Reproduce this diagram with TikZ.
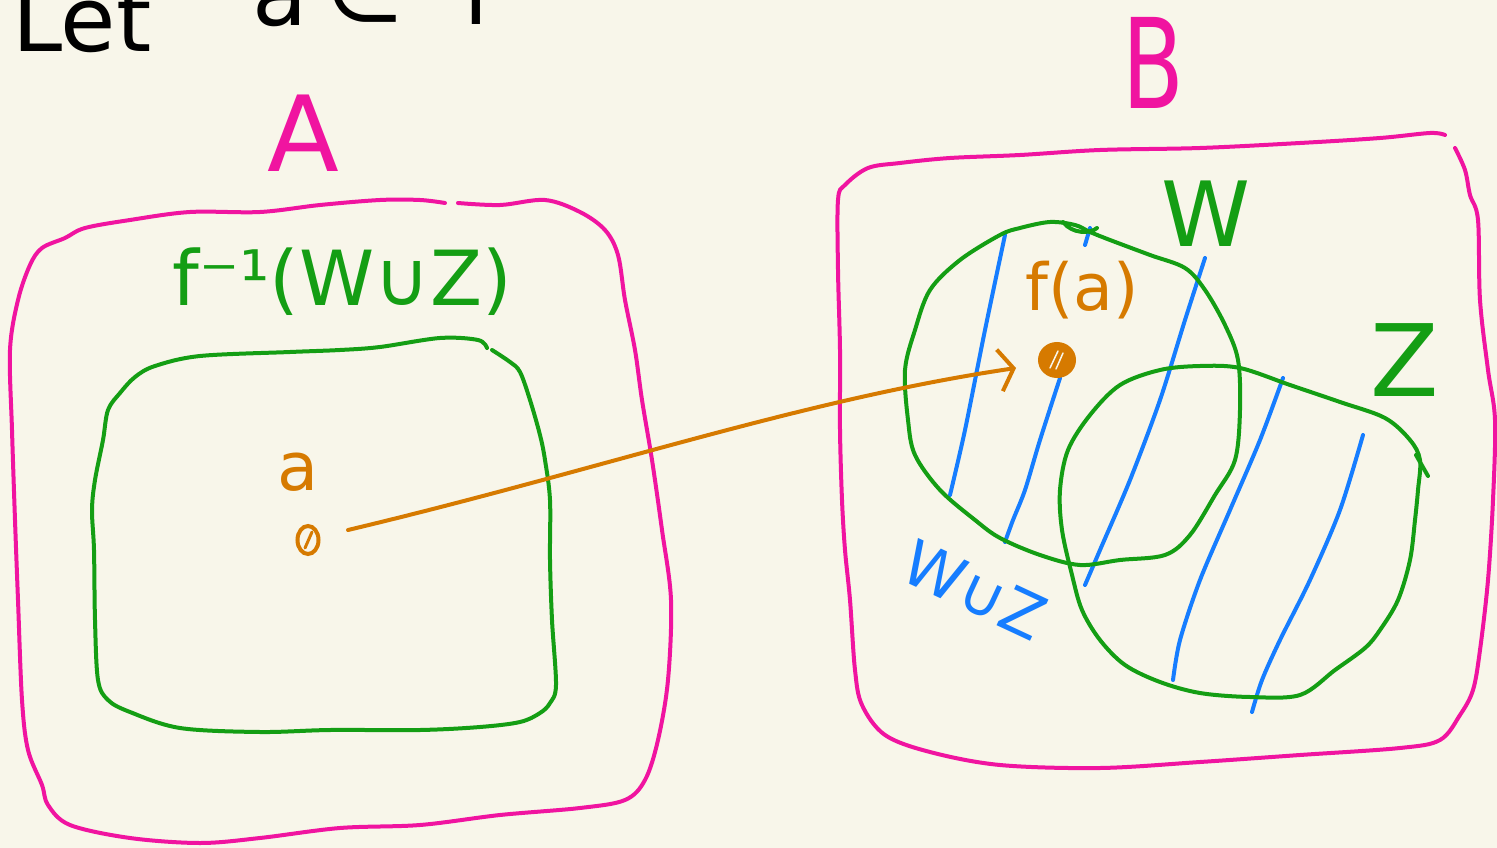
\documentclass[tikz,border=0pt]{standalone}
\usepackage{fontspec}
\setmainfont{DejaVu Sans}
\usetikzlibrary{arrows.meta,shapes.geometric}
\definecolor{bg}{RGB}{248,246,234}
\definecolor{pinkc}{RGB}{240,20,160}
\definecolor{grn}{RGB}{20,158,20}
\definecolor{blu}{RGB}{22,125,255}
\definecolor{org}{RGB}{214,122,0}
\newcommand{\fs}[1]{\fontsize{#1}{#1}\selectfont}
\begin{document}
\begin{tikzpicture}[x=1pt,y=-1pt,
  stroke/.style={line width=4pt,line cap=round,line join=round},
  hatch/.style={stroke,blu},
  lbl/.style={inner sep=0pt},
  dotnode/.style={ellipse,draw=org,line width=4pt,inner sep=0pt}]
\fill[bg] (0,0) rectangle (1497,848);
\useasboundingbox (0,0) rectangle (1497,848);
\clip (0,0) rectangle (1497,848);

% top text (cut off)
\node[lbl,anchor=base west,font=\fs{90}] (tLet) at (12,52) {Let};
\node[lbl,anchor=base west,font=\fs{90}] (ta) at (252,26) {a};
\node[lbl,anchor=base west,font=\fs{90}] (tin) at (325,22) {∈};
\node[lbl,anchor=base west,font=\fs{90}] (tf) at (462,25) {f};

% set A
\draw[stroke,pinkc] plot[smooth,tension=0.55] coordinates {(458,203) (500,205) (545,200) (580,212) (605,230) (618,255) (625,300) (635,350) (642,400) (652,460) (662,530) (671,600) (668,680) (658,740) (645,780) (625,800) (580,808) (500,815) (420,825) (340,828) (260,838) (200,843) (130,838) (70,825) (48,805) (42,785) (28,750) (22,700) (18,600) (15,520) (12,430) (10,350) (18,300) (30,265) (42,248) (65,238) (85,228) (130,220) (190,212) (260,212) (320,205) (380,200) (420,200) (445,203)};
\node[lbl,pinkc,font=\fs{105}] (labA) at (303,133) {A};

% preimage box
\draw[stroke,grn] plot[smooth,tension=0.55] coordinates {(492,350) (510,362) (520,372) (530,400) (540,435) (545,460) (550,500) (550,560) (552,620) (556,685) (550,703) (540,713) (520,722) (480,727) (420,730) (330,730) (260,732) (180,728) (130,712) (108,700) (98,680) (95,620) (94,550) (92,510) (95,480) (103,440) (108,410) (120,393) (135,377) (155,366) (200,356) (290,352) (340,350) (380,347) (440,338) (478,340) (487,348)};
\node[lbl,grn,font=\fs{76}] (labFinv) at (342,282) {f⁻¹(W∪Z)};

% set B
\draw[stroke,pinkc] plot[smooth,tension=0.55] coordinates {(1455,148) (1465,170) (1470,195) (1478,220) (1480,300) (1488,370) (1495,420) (1493,500) (1488,580) (1480,650) (1473,690) (1460,715) (1440,740) (1400,748) (1300,755) (1200,762) (1100,768) (1000,765) (930,752) (885,735) (862,705) (855,670) (850,600) (845,550) (842,500) (840,430) (840,350) (838,270) (838,200) (845,185) (868,168) (900,163) (950,158) (1020,155) (1100,150) (1200,148) (1300,143) (1380,138) (1430,133) (1445,135)};
\node[lbl,pinkc,font=\fs{125},xscale=0.72] (labB) at (1153,63) {B};

% blue hatching
\draw[hatch] plot[smooth] coordinates {(1005,235) (985,330) (965,430) (950,495)};
\draw[hatch] plot[smooth] coordinates {(1060,378) (1040,440) (1025,490) (1013,520) (1005,542)};
\draw[hatch] (1085,245) -- (1090,228);
\draw[hatch] plot[smooth] coordinates {(1205,258) (1185,320) (1160,400) (1130,480) (1100,550) (1085,585)};
\draw[hatch] plot[smooth] coordinates {(1283,378) (1260,440) (1230,510) (1200,580) (1180,640) (1173,680)};
\draw[hatch] plot[smooth] coordinates {(1363,435) (1340,510) (1310,580) (1280,640) (1262,680) (1252,712)};

% W
\draw[stroke,grn] plot[smooth cycle,tension=0.55] coordinates {(1000,235) (960,260) (930,290) (915,330) (905,370) (908,420) (915,455) (940,490) (975,520) (1000,538) (1040,555) (1080,565) (1120,560) (1165,555) (1190,535) (1215,495) (1235,460) (1240,410) (1238,360) (1225,325) (1205,290) (1185,268) (1150,255) (1110,240) (1090,232) (1075,225) (1050,222) (1020,228)};
\draw[stroke,grn] (1063,222) .. controls (1072,234) and (1090,234) .. (1097,228);
\node[lbl,grn,font=\fs{90}] (labW) at (1206,214) {W};

% Z
\draw[stroke,grn] plot[smooth cycle,tension=0.55] coordinates {(1090,415) (1120,385) (1160,370) (1200,366) (1240,368) (1290,385) (1340,402) (1385,418) (1410,440) (1420,460) (1418,490) (1415,520) (1410,560) (1398,600) (1380,630) (1365,648) (1335,670) (1300,695) (1250,697) (1200,693) (1160,682) (1125,665) (1100,640) (1082,610) (1072,575) (1062,530) (1060,490) (1068,450)};
\draw[stroke,grn] (1416,455) -- (1428,476);
\node[lbl,grn,font=\fs{100}] (labZ) at (1405,360) {Z};

\node[lbl,blu,font=\fs{62},rotate=-25] (labWZ) at (975,590) {W∪Z};

% points and arrow
\node[dotnode,minimum width=21pt,minimum height=28pt] (dotA) at (308,540) {};
\draw[org,line width=3pt,line cap=round] ([shift={(-3,8)}]dotA.center) -- ([shift={(4,-8)}]dotA.center);
\node[lbl,org,font=\fs{67}] (laba) at (298,472) {a};

\node[dotnode,fill=org,minimum width=34pt,minimum height=32pt] (dotFa) at (1057,360) {};
\draw[bg,line width=1.5pt,line cap=round] ([shift={(-7,8)}]dotFa.center) -- ([shift={(1,-9)}]dotFa.center);
\draw[bg,line width=1.5pt,line cap=round] ([shift={(-1,9)}]dotFa.center) -- ([shift={(6,-7)}]dotFa.center);
\node[lbl,org,font=\fs{65}] (labFa) at (1082,290) {f(a)};

\coordinate (arrStart) at (348,530);
\coordinate (arrTip) at (1016,368);
\draw[stroke,org,-{Straight Barb[length=14pt,width=42pt,line width=4pt]}] (arrStart) .. controls (600,470) and (800,400) .. (arrTip);
\end{tikzpicture}
\end{document}
